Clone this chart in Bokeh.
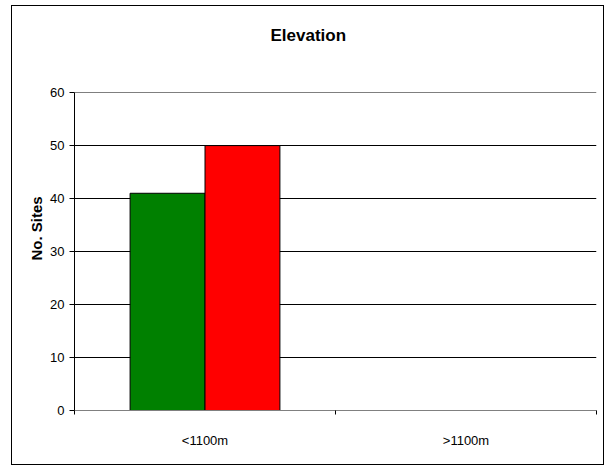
from bokeh.plotting import figure
from bokeh.models import Range1d, FixedTicker, Title, ColumnDataSource
from bokeh.embed import file_html
from bokeh.resources import INLINE

# Site counts by elevation band
categories = ["<1100m", ">1100m"]
series_a = [41, 0]   # green series
series_b = [50, 0]   # red series
y_ticks = [0, 10, 20, 30, 40, 50, 60]

FONT = "Liberation Sans"
BAR_W = 0.287

p = figure(width=593, height=460, output_backend="svg", toolbar_location=None,
           x_range=Range1d(0, len(categories)), y_range=Range1d(0, 60.02),
           min_border_left=62, min_border_right=9, min_border_top=86, min_border_bottom=56,
           margin=(5, 0, 0, 11))
p.styles = {"border": "1px solid #000000"}
p.outline_line_color = None
p.background_fill_color = "white"
p.border_fill_color = "white"

centers = [i + 0.5 for i in range(len(categories))]
src = ColumnDataSource(dict(
    xa=[c - BAR_W / 2 for c in centers],
    xb=[c + BAR_W / 2 for c in centers],
    a=series_a, b=series_b))
p.vbar(x="xa", top="a", bottom=0, width=BAR_W, source=src,
       fill_color="#008000", line_color="#000000", line_width=1)
p.vbar(x="xb", top="b", bottom=0, width=BAR_W, source=src,
       fill_color="#ff0000", line_color="#000000", line_width=1)

# Horizontal gridlines
p.xgrid.visible = False
p.ygrid.ticker = FixedTicker(ticks=y_ticks)
p.ygrid.grid_line_color = "#000000"
p.ygrid.grid_line_width = 1

# Y axis
ya = p.yaxis[0]
ya.ticker = FixedTicker(ticks=y_ticks)
ya.axis_line_color = "#000000"
ya.major_tick_line_color = "#000000"
ya.major_tick_in = 0
ya.major_tick_out = 5
ya.minor_tick_line_color = None
ya.major_label_standoff = 5
ya.major_label_text_font = FONT
ya.major_label_text_font_size = "13px"
ya.major_label_text_color = "#000000"

# X axis: labels at category centres, ticks at category boundaries
xa = p.xaxis[0]
xa.ticker = FixedTicker(ticks=centers, minor_ticks=list(range(len(categories) + 1)))
xa.major_label_overrides = {c: lab for c, lab in zip(centers, categories)}
xa.axis_line_color = "#808080"
xa.major_tick_line_color = None
xa.major_tick_out = 0
xa.major_tick_in = 0
xa.minor_tick_line_color = "#000000"
xa.minor_tick_in = 0
xa.minor_tick_out = 4
xa.major_label_standoff = 18
xa.major_label_text_font = FONT
xa.major_label_text_font_size = "13px"
xa.major_label_text_color = "#000000"

# Chart title (blank lines below keep it clear of the plot area)
p.title.text = "Elevation\n\u00a0\n\u00a0"
p.title.align = "left"
p.title.offset = 196
p.title.vertical_align = "top"
p.title.standoff = 0
p.title.text_line_height = 1.2
p.title.text_font = FONT
p.title.text_font_size = "17px"
p.title.text_font_style = "bold"
p.title.text_color = "#000000"

# Value-axis title
p.add_layout(Title(text="No. Sites", align="left", offset=150, vertical_align="top",
                   standoff=2, text_font=FONT, text_font_size="15px",
                   text_font_style="bold", text_color="#000000"), "left")

open("out.html", "w").write(file_html(p, INLINE))
